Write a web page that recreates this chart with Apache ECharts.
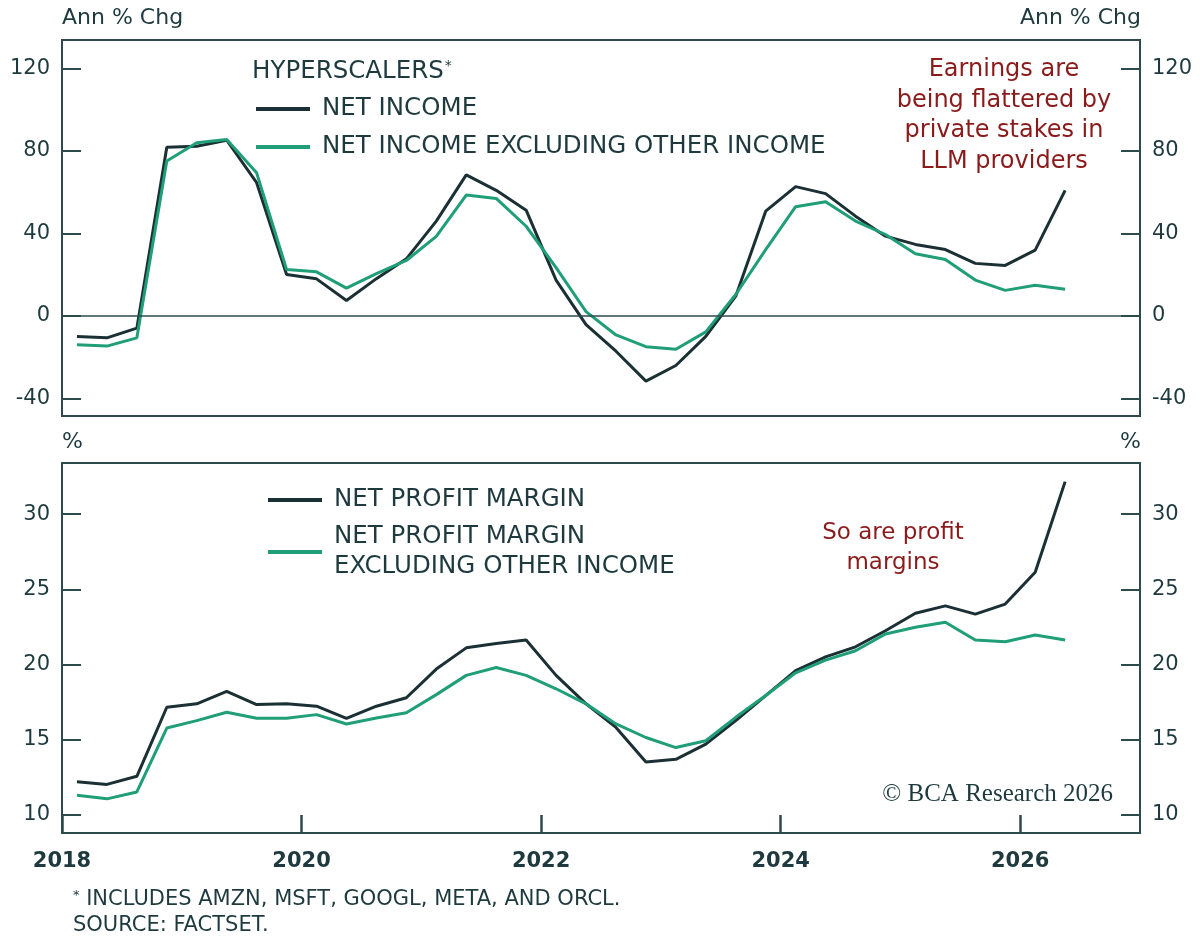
<!DOCTYPE html>
<html>
<head>
<meta charset="utf-8">
<script src="https://cdn.jsdelivr.net/npm/echarts@6/dist/echarts.min.js"></script>
<style>
html,body{margin:0;padding:0;background:#ffffff;}
#chart{width:1200px;height:937px;}
</style>
</head>
<body>
<div id="chart"></div>
<script>
// ---- DATA ----
const quarters = [
  '2018Q1','2018Q2','2018Q3','2018Q4','2019Q1','2019Q2','2019Q3','2019Q4',
  '2020Q1','2020Q2','2020Q3','2020Q4','2021Q1','2021Q2','2021Q3','2021Q4',
  '2022Q1','2022Q2','2022Q3','2022Q4','2023Q1','2023Q2','2023Q3','2023Q4',
  '2024Q1','2024Q2','2024Q3','2024Q4','2025Q1','2025Q2','2025Q3','2025Q4',
  '2026Q1','2026Q2'
];
const netIncome = [
  -10.0, -10.7, -6.0, 81.7, 82.2, 85.1, 64.5, 20.0,
  17.9, 7.4, 18.0, 27.6, 45.9, 68.3, 60.8, 51.2,
  17.3, -4.3, -17.2, -31.7, -24.1, -10.0, 9.5, 50.7,
  62.6, 59.2, 48.3, 38.6, 34.6, 32.1, 25.4, 24.4,
  31.8, 60.8
];
const netIncomeExOther = [
  -14.1, -14.7, -10.7, 75.0, 83.9, 85.5, 69.3, 22.4,
  21.3, 13.4, 20.4, 26.8, 38.5, 58.5, 56.9, 43.4,
  23.3, 2.0, -9.3, -15.0, -16.2, -7.8, 10.3, 32.1,
  52.9, 55.3, 45.9, 39.4, 30.1, 27.3, 17.3, 12.3,
  14.8, 12.8
];
const netMargin = [
  12.2, 12.03, 12.57, 17.16, 17.39, 18.21, 17.34, 17.39,
  17.23, 16.42, 17.23, 17.79, 19.7, 21.11, 21.4, 21.63,
  19.28, 17.39, 15.82, 13.52, 13.7, 14.71, 16.27, 17.94,
  19.6, 20.51, 21.18, 22.25, 23.41, 23.9, 23.35, 24.02,
  26.14, 32.16
];
const netMarginExOther = [
  11.31, 11.07, 11.53, 15.78, 16.27, 16.83, 16.43, 16.43,
  16.67, 16.05, 16.45, 16.79, 18.0, 19.28, 19.8, 19.28,
  18.39, 17.39, 16.05, 15.15, 14.48, 14.93, 16.49, 17.94,
  19.45, 20.29, 20.92, 22.03, 22.48, 22.81, 21.63, 21.52,
  21.96, 21.63
];
const xTickYears = [2018, 2020, 2022, 2024, 2026];
const topTicks = [-40, 0, 40, 80, 120];
const bottomTicks = [10, 15, 20, 25, 30];

// ---- STYLE ----
const DARK = '#1b3034';
const GREEN = '#1f9e78';
const TEXT = '#1e3a3e';
const FRAME = '#2d4a4f';
const RED = '#8b1a1a';
const FONT = '"DejaVu Sans", "Noto Sans", sans-serif';

// quarter label -> decimal year at mid-quarter
function qx(q) {
  const y = parseInt(q.slice(0, 4), 10);
  const n = parseInt(q.slice(5), 10);
  return y + (n - 1) * 0.25 + 0.125;
}
const pair = arr => quarters.map((q, i) => [qx(q), arr[i]]);

const chart = echarts.init(document.getElementById('chart'), null, {renderer: 'canvas'});

function yAx(grid, pos, min, max, ticks) {
  return {
    type: 'value', gridIndex: grid, position: pos, min: min, max: max,
    axisLine: {show: false},
    splitLine: {show: false},
    axisTick: {show: true, inside: true, length: 19, customValues: ticks,
      lineStyle: {color: FRAME, width: 2}},
    axisLabel: {customValues: ticks, margin: 12, fontSize: 21, color: TEXT, fontFamily: FONT}
  };
}

const option = {
  animation: false,
  backgroundColor: '#ffffff',
  grid: [
    {left: 62, right: 60, top: 40, height: 376, show: true, borderColor: FRAME, borderWidth: 2, backgroundColor: 'transparent'},
    {left: 62, right: 60, top: 463, height: 370, show: true, borderColor: FRAME, borderWidth: 2, backgroundColor: 'transparent'}
  ],
  xAxis: [
    {type: 'value', gridIndex: 0, min: 2018, max: 2027,
      axisLine: {show: false}, axisTick: {show: false}, axisLabel: {show: false}, splitLine: {show: false}},
    {type: 'value', gridIndex: 1, min: 2018, max: 2027,
      axisLine: {show: false}, splitLine: {show: false},
      axisTick: {show: true, inside: true, length: 18, customValues: xTickYears,
        lineStyle: {color: FRAME, width: 2.5}},
      axisLabel: {customValues: xTickYears, margin: 18, fontSize: 21, fontWeight: 'bold',
        color: TEXT, fontFamily: FONT, formatter: v => String(v)}}
  ],
  yAxis: [
    yAx(0, 'left', -48.6, 133.7, topTicks),
    yAx(0, 'right', -48.6, 133.7, topTicks),
    yAx(1, 'left', 8.8, 33.4, bottomTicks),
    yAx(1, 'right', 8.8, 33.4, bottomTicks)
  ],
  legend: [
    {data: ['NET INCOME', 'NET INCOME EXCLUDING OTHER INCOME'],
      orient: 'vertical', left: 251, top: 91, itemWidth: 54, itemHeight: 4, icon: 'rect',
      itemGap: 12, selectedMode: false,
      textStyle: {fontSize: 24.5, lineHeight: 26, color: TEXT, fontFamily: FONT, padding: [0, 0, 0, 7]}},
    {data: ['NET PROFIT MARGIN', 'NET PROFIT MARGIN\nEXCLUDING OTHER INCOME'],
      orient: 'vertical', left: 263, top: 480, itemWidth: 54, itemHeight: 4, icon: 'rect',
      itemGap: 7, selectedMode: false,
      textStyle: {fontSize: 24.5, lineHeight: 30, color: TEXT, fontFamily: FONT, padding: [0, 0, 0, 7]}}
  ],
  series: [
    {name: 'NET INCOME', type: 'line', xAxisIndex: 0, yAxisIndex: 0,
      data: pair(netIncome), symbol: 'none', lineStyle: {color: DARK, width: 3}, itemStyle: {color: DARK}, z: 3,
      markLine: {silent: true, symbol: 'none', label: {show: false},
        lineStyle: {color: FRAME, width: 1.6, type: 'solid'}, data: [{yAxis: 0}]}},
    {name: 'NET INCOME EXCLUDING OTHER INCOME', type: 'line', xAxisIndex: 0, yAxisIndex: 0,
      data: pair(netIncomeExOther), symbol: 'none', lineStyle: {color: GREEN, width: 3}, itemStyle: {color: GREEN}, z: 4},
    {name: 'NET PROFIT MARGIN', type: 'line', xAxisIndex: 1, yAxisIndex: 2,
      data: pair(netMargin), symbol: 'none', lineStyle: {color: DARK, width: 3}, itemStyle: {color: DARK}, z: 3},
    {name: 'NET PROFIT MARGIN\nEXCLUDING OTHER INCOME', type: 'line', xAxisIndex: 1, yAxisIndex: 2,
      data: pair(netMarginExOther), symbol: 'none', lineStyle: {color: GREEN, width: 3}, itemStyle: {color: GREEN}, z: 4}
  ],
  graphic: [
    {type: 'text', x: 62, y: 18, style: {text: 'Ann % Chg', align: 'left', verticalAlign: 'middle',
      font: '22px ' + FONT, fill: TEXT}},
    {type: 'text', x: 1141, y: 18, style: {text: 'Ann % Chg', align: 'right', verticalAlign: 'middle',
      font: '22px ' + FONT, fill: TEXT}},
    {type: 'text', x: 62, y: 442, style: {text: '%', align: 'left', verticalAlign: 'middle',
      font: '22px ' + FONT, fill: TEXT}},
    {type: 'text', x: 1141, y: 442, style: {text: '%', align: 'right', verticalAlign: 'middle',
      font: '22px ' + FONT, fill: TEXT}},
    {type: 'text', x: 252, y: 72, style: {text: '{a|HYPERSCALERS}{s|*}', align: 'left', verticalAlign: 'middle',
      rich: {a: {fontSize: 24.5, fontFamily: FONT, fill: TEXT},
             s: {fontSize: 14, fontFamily: FONT, fill: TEXT, verticalAlign: 'top', padding: [0, 0, 10, 1]}}}},
    {type: 'text', x: 1004, y: 116, style: {text: 'Earnings are\nbeing flattered by\nprivate stakes in\nLLM providers',
      align: 'center', verticalAlign: 'middle', fontSize: 24, lineHeight: 30.5, fontFamily: FONT, fill: RED}},
    {type: 'text', x: 893, y: 548.5, style: {text: 'So are profit\nmargins',
      align: 'center', verticalAlign: 'middle', fontSize: 23, lineHeight: 30, fontFamily: FONT, fill: RED}},
    {type: 'text', x: 1113, y: 794, style: {text: '\u00A9 BCA Research 2026', align: 'right', verticalAlign: 'middle',
      font: '25px "Liberation Serif", "DejaVu Serif", serif', fill: TEXT}},
    {type: 'text', x: 73, y: 900, style: {text: '{s|*}{t| INCLUDES AMZN, MSFT, GOOGL, META, AND ORCL.}',
      align: 'left', verticalAlign: 'middle',
      rich: {t: {fontSize: 21, fontFamily: FONT, fill: TEXT},
             s: {fontSize: 13, fontFamily: FONT, fill: TEXT, verticalAlign: 'top', padding: [0, 0, 8, 0]}}}},
    {type: 'text', x: 73, y: 925.5, style: {text: 'SOURCE: FACTSET.', align: 'left', verticalAlign: 'middle',
      font: '21px ' + FONT, fill: TEXT}}
  ]
};
chart.setOption(option);
</script>
</body>
</html>
